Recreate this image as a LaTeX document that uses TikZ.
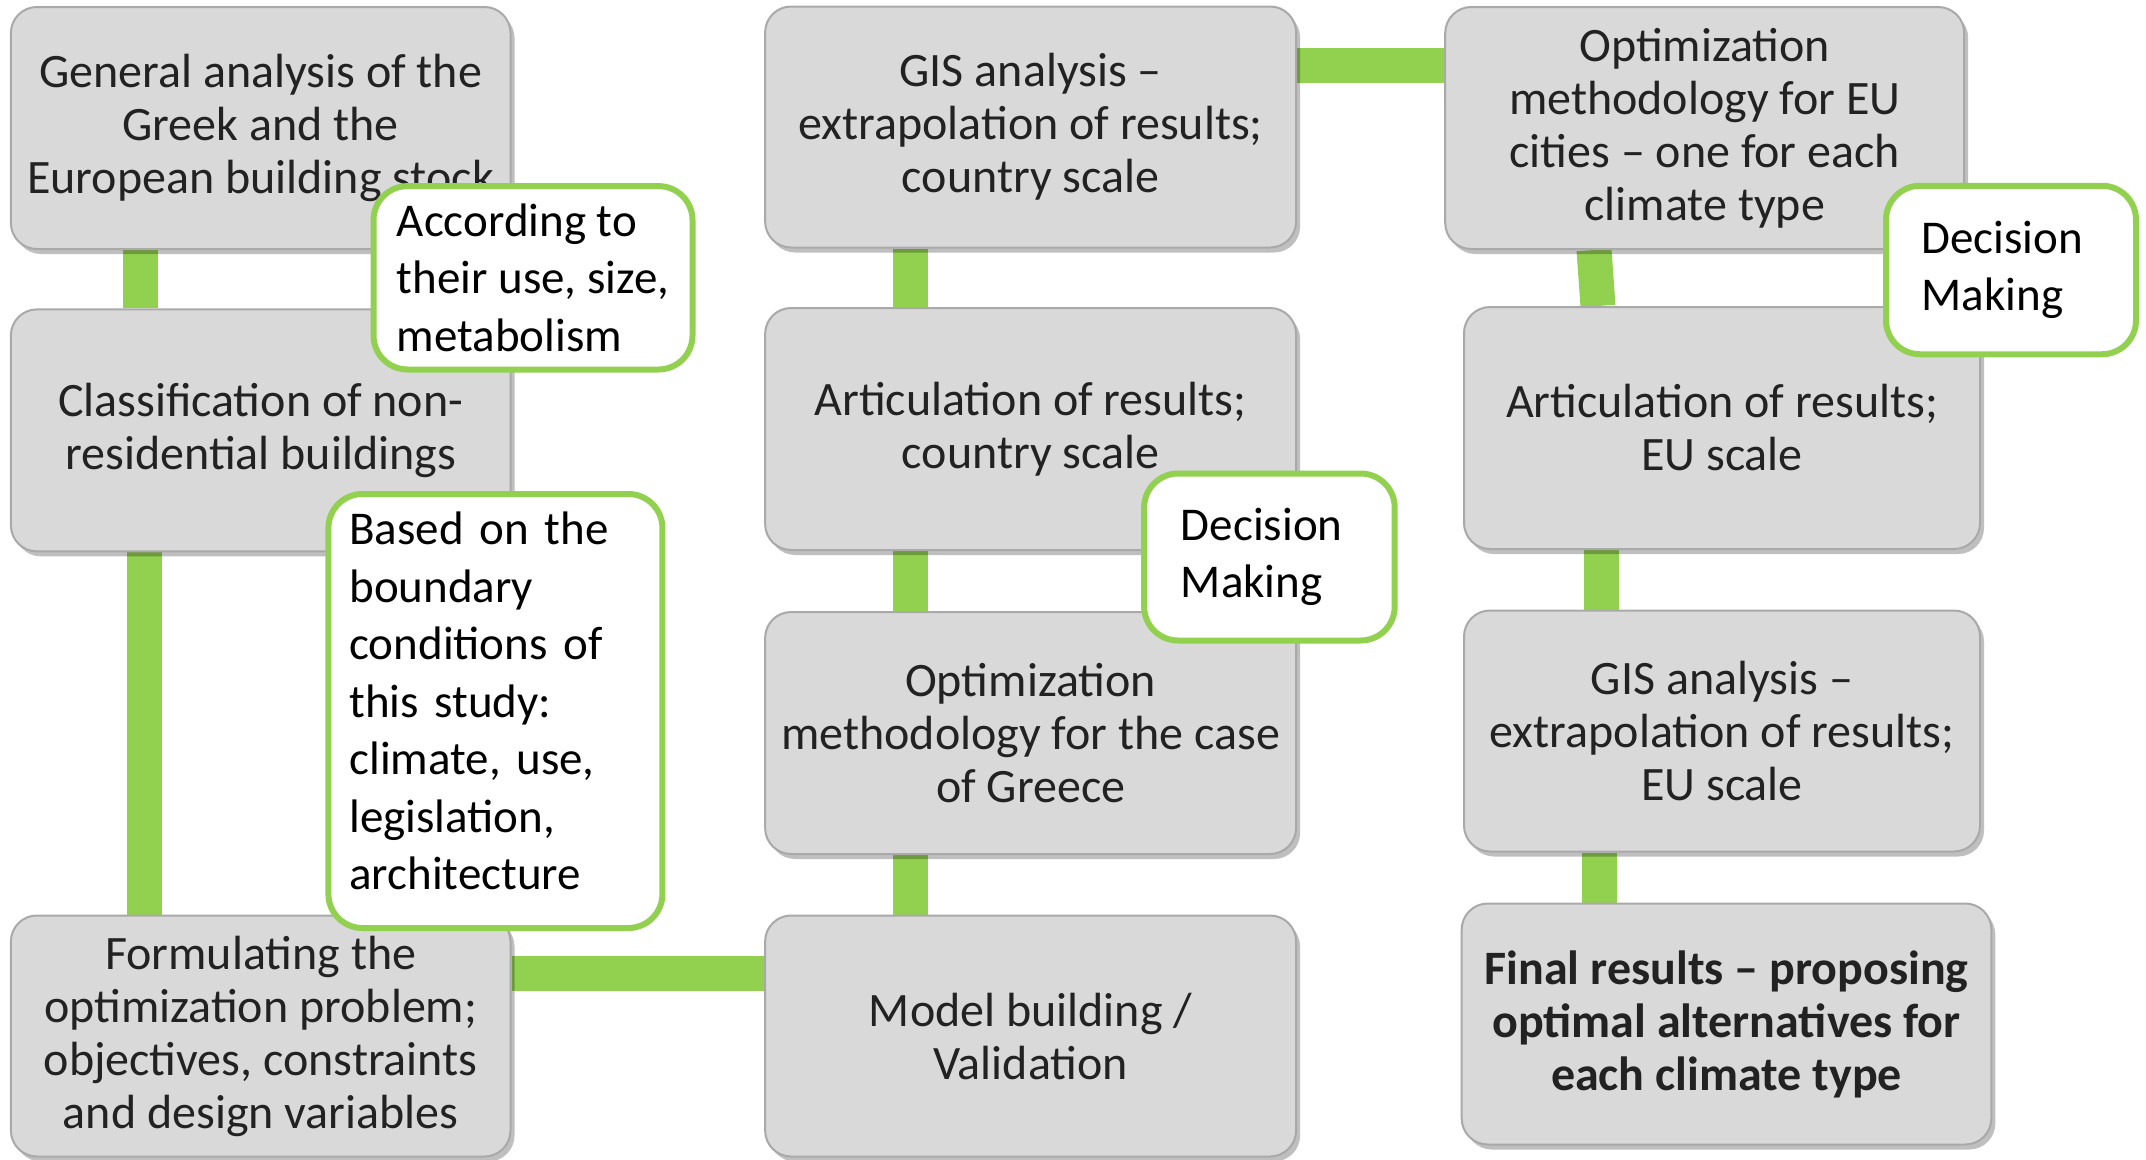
\documentclass[tikz,border=0pt]{standalone}
\usepackage{fontspec}
\setmainfont{Carlito}
\usetikzlibrary{shadows,backgrounds,calc}
\definecolor{boxfill}{HTML}{D9D9D9}
\definecolor{boxline}{HTML}{A9A9A9}
\definecolor{grn}{HTML}{92D050}
\definecolor{txt}{HTML}{222222}
\begin{document}
\begin{tikzpicture}[x=1pt,y=-1pt,
  stepbox/.style={draw=boxline, line width=2pt, fill=boxfill, rounded corners=26pt,
    align=center, text=txt, font=\fontsize{48pt}{53pt}\selectfont, inner sep=0pt,
    drop shadow={shadow xshift=4pt, shadow yshift=-5pt, fill=black, opacity=0.25}},
  note/.style={draw=grn, line width=6pt, fill=white, rounded corners=34pt,
    align=left, text=black, font=\fontsize{47pt}{57.5pt}\selectfont, inner sep=0pt},
  conn/.style={draw=grn, line width=35pt}]
\useasboundingbox (0,0) rectangle (2146,1159);

% column 1
\node[stepbox, minimum width=499.6pt, minimum height=242pt] (A) at (260.7,128)
  {General analysis of the\\Greek and the\\European building stock};
\node[stepbox, minimum width=499.6pt, minimum height=242pt] (B) at (260.7,430.4)
  {Classification of non-\\residential buildings};
\node[stepbox, minimum width=499.6pt, minimum height=241pt] (C) at (260.7,1036)
  {Formulating the\\optimization problem;\\objectives, constraints\\and design variables};

% column 2
\node[stepbox, minimum width=531pt, minimum height=241pt] (D) at (1030.6,127)
  {GIS analysis –\\extrapolation of results;\\country scale};
\node[stepbox, minimum width=531pt, minimum height=242pt] (E) at (1030.6,429)
  {Articulation of results;\\country scale};
\node[stepbox, minimum width=531pt, minimum height=242pt] (F) at (1030.6,733)
  {Optimization\\methodology for the case\\of Greece};
\node[stepbox, minimum width=531pt, minimum height=241pt] (G) at (1030.6,1036)
  {Model building /\\Validation};

% column 3
\node[stepbox, minimum width=519pt, minimum height=242pt] (H) at (1704.7,128)
  {Optimization\\methodology for EU\\cities – one for each\\climate type};
\node[stepbox, minimum width=516pt, minimum height=242pt] (I) at (1722,428)
  {Articulation of results;\\EU scale};
\node[stepbox, minimum width=516pt, minimum height=241pt] (J) at (1722,731)
  {GIS analysis –\\extrapolation of results;\\EU scale};
\node[stepbox, minimum width=529.6pt, minimum height=241pt, font=\fontsize{48pt}{53pt}\selectfont\bfseries] (K) at (1726.5,1024)
  {Final results – proposing\\optimal alternatives for\\each climate type};

% notes
\node[note, minimum width=319pt, minimum height=183.4pt] (N1) at (533,277.8)
  {According to\\their use, size,\\metabolism};
\node[note, minimum width=334pt, minimum height=434pt, text width=292pt] (N2) at (495.4,711)
  {Based on the\\boundary\\conditions of\\this study:\\climate, use,\\legislation,\\architecture\\[-37.5pt]\mbox{}};
\node[note, minimum width=250.6pt, minimum height=167pt, text width=177pt] (N3) at (1269.4,557)
  {Decision\\Making};
\node[note, minimum width=250pt, minimum height=168.5pt, text width=179pt] (N4) at (2011,270)
  {Decision\\Making};

% connectors
\begin{scope}[on background layer]
  \draw[conn] ([xshift=-120.7pt]A.south) -- ([xshift=-120.7pt]A.south |- B.north);
  \draw[conn] ([xshift=-116.7pt]B.south) -- ([xshift=-116.7pt]B.south |- C.north);
  \draw[conn] ([yshift=63pt]C.east) -- ([yshift=63pt]C.east -| G.west);
  \draw[conn] ([xshift=-120pt]G.north) -- ([xshift=-120pt]G.north |- F.south);
  \draw[conn] ([xshift=-120pt]F.north) -- ([xshift=-120pt]F.north |- E.south);
  \draw[conn] ([xshift=-120pt]E.north) -- ([xshift=-120pt]E.north |- D.south);
  \draw[conn] ([yshift=62pt]D.east) -- ([yshift=62pt]D.east -| H.west);
  \draw[conn] ([xshift=-110.7pt]H.south) -- ([xshift=-124pt]I.north);
  \draw[conn] ([xshift=-121pt]I.south) -- ([xshift=-121pt]I.south |- J.north);
  \draw[conn] ([xshift=-122.5pt]J.south) -- ([xshift=-122.5pt]J.south |- K.north);
\end{scope}
\end{tikzpicture}
\end{document}
